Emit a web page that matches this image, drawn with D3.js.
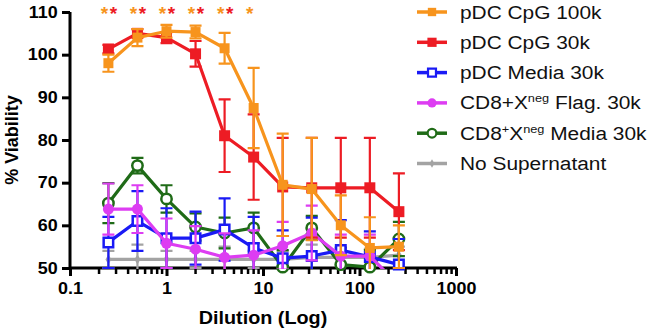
<!DOCTYPE html>
<html>
<head>
<meta charset="utf-8">
<script src="https://cdn.jsdelivr.net/npm/d3@7"></script>
<style>
  body { margin: 0; background: #fff; }
  text { font-family: "Liberation Sans", Arial, sans-serif; }
</style>
</head>
<body>
<svg width="654" height="333"></svg>
<script>
// dilution steps (x, log scale)
var dilutions = [0.25, 0.5, 1, 2, 4, 8, 16, 32, 64, 128, 256];

var seriesNames = ["pDC CpG 100k", "pDC CpG 30k", "pDC Media 30k",
  "CD8+X^{neg} Flag. 30k", "CD8^{+}X^{neg} Media 30k", "No Supernatant"];

// mean % viability and error per dilution
var cpg100Mean = [98, 104, 105.5, 105.3, 101.5, 87.5, 69.5, 68.5, 60, 54.7, 55];
var cpg100Err  = [2, 2, 1.5, 1.5, 3.6, 9.4, 12, 12, 7, 7.2, 5];
var cpg30Mean  = [101.3, 105, 104, 100.2, 81, 76, 69, 68.8, 68.8, 68.8, 63.2];
var cpg30Err   = [1, 1, 1.3, 3, 8.5, 10, 11.5, 11.7, 11.7, 11.7, 9];
var mediaMean  = [56, 61, 57, 57, 59, 54.7, 52.3, 52.8, 54.2, 52.6, 50.8];
var mediaErr   = [6, 7, 7, 6.2, 7.3, 7.3, 6.5, 9, 7, 6, 6];
var flagMean   = [63.8, 63.8, 55.8, 54.4, 52.5, 53, 55.2, 58.2, 52.8, 52.8, 46];
var flagErr    = [6, 5.6, 5.8, 5.4, 5.6, 5.8, 5.6, 6.4, 5, 5, 4];
var cd8Mean    = [65.2, 74, 66.2, 59.6, 58.2, 59.4, 50.2, 59.4, 50.8, 50.2, 56.8];
var cd8Err     = [4.7, 1.8, 3.2, 3.2, 3.6, 3.6, 4, 2.8, 4, 4, 4];
var noSupMean  = [52, 52, 52, 52, 52, 52, 52, 52.5, 52.5, 52.5, 53];
var noSupErr   = [2, 3.5, 2, 2, 3, 2, 2, 3, 2, 2, 2];

// significance stars over the first dilutions: [orange, red]
var starFlags = [[1, 1], [1, 1], [1, 1], [1, 1], [1, 1], [1, 0]];

var xTicks = [0.1, 1, 10, 100, 1000];
var yTicks = [50, 60, 70, 80, 90, 100, 110];

var colors = ["#F7941D", "#ED1C24", "#1A1AF5", "#DD3DF2", "#1F6B17", "#A3A3A3"];

var series = [
  {name: seriesNames[0], mean: cpg100Mean, err: cpg100Err, color: colors[0], shape: d3.symbolSquare, size: 100, open: false},
  {name: seriesNames[1], mean: cpg30Mean,  err: cpg30Err,  color: colors[1], shape: d3.symbolSquare, size: 121, open: false},
  {name: seriesNames[2], mean: mediaMean,  err: mediaErr,  color: colors[2], shape: d3.symbolSquare, size: 90,  open: true},
  {name: seriesNames[3], mean: flagMean,   err: flagErr,   color: colors[3], shape: d3.symbolCircle, size: 95,  open: false},
  {name: seriesNames[4], mean: cd8Mean,    err: cd8Err,    color: colors[4], shape: d3.symbolCircle, size: 85,  open: true},
  {name: seriesNames[5], mean: noSupMean,  err: noSupErr,  color: colors[5], shape: d3.symbolDiamond, size: 30, open: false}
];
// drawing order (bottom -> top)
var drawOrder = [5, 4, 2, 3, 1, 0];

var svg = d3.select("svg");
var xScale = d3.scaleLog().domain([0.1, 1000]).range([70, 456]);
var yScale = d3.scaleLinear().domain([50, 110]).range([268, 12]);

var defs = svg.append("defs");
defs.append("clipPath").attr("id", "clipLines")
  .append("rect").attr("x", 60).attr("y", 0).attr("width", 410).attr("height", 269);
defs.append("clipPath").attr("id", "clipMarks")
  .append("rect").attr("x", 60).attr("y", 0).attr("width", 410).attr("height", 276);

// axes
var yAxis = d3.axisLeft(yScale).tickValues(yTicks).tickSize(8).tickSizeOuter(0).tickPadding(3);
var yG = svg.append("g").attr("transform", "translate(70,0)").call(yAxis);

var xAxis = d3.axisBottom(xScale).tickValues(xTicks).tickSize(8).tickSizeOuter(0).tickPadding(7)
  .tickFormat(d3.format("~g"));
var xG = svg.append("g").attr("transform", "translate(0,268)").call(xAxis);

[yG, xG].forEach(function(g) {
  g.select(".domain").attr("stroke", "#000").attr("stroke-width", 3);
  g.selectAll(".tick line").attr("stroke", "#000").attr("stroke-width", 3);
  g.selectAll(".tick text")
    .attr("fill", "#000")
    .style("font-size", "16px")
    .style("font-weight", "bold")
    .attr("transform", "scale(1.12,1)");
});
xG.select(".domain").attr("d", "M69,0H457");
yG.select(".domain").attr("d", "M0,12V269.5");

// minor log ticks
var minor = [];
[0.1, 1, 10, 100].forEach(function(dec) {
  for (var k = 2; k <= 9; k++) minor.push(dec * k);
});
svg.append("g").selectAll("line.minor")
  .data(minor)
  .enter()
  .append("line")
    .attr("class", "minor")
    .attr("x1", d => xScale(d)).attr("x2", d => xScale(d))
    .attr("y1", 268).attr("y2", 274)
    .attr("stroke", "#000").attr("stroke-width", 2.5);

// axis titles
svg.append("text")
  .attr("transform", "translate(18,140) rotate(-90)")
  .attr("text-anchor", "middle")
  .style("font-size", "18px").style("font-weight", "bold")
  .text("% Viability");

svg.append("text")
  .attr("transform", "translate(263,324) scale(1.1,1)")
  .attr("text-anchor", "middle")
  .style("font-size", "18px").style("font-weight", "bold")
  .text("Dilution (Log)");

// data series
var symbol = d3.symbol();
drawOrder.forEach(function(si) {
  var s = series[si];
  var pts = dilutions.map((x, i) => ({x: x, y: s.mean[i], e: s.err[i]}));
  var g = svg.append("g").attr("class", "series");
  var lg = g.append("g").attr("clip-path", "url(#clipLines)");

  // error bars
  lg.selectAll("path.err")
    .data(pts)
    .enter()
    .append("path")
      .attr("class", "err")
      .attr("d", function(d) {
        var x = xScale(d.x), y0 = yScale(d.y - d.e), y1 = yScale(d.y + d.e);
        return "M" + x + "," + y0 + "V" + y1 +
          "M" + (x - 6) + "," + y1 + "H" + (x + 6) +
          "M" + (x - 6) + "," + y0 + "H" + (x + 6);
      })
      .attr("fill", "none")
      .attr("stroke", s.color)
      .attr("stroke-width", 2.2);

  lg.append("path")
    .datum(pts)
    .attr("d", d3.line().x(d => xScale(d.x)).y(d => yScale(d.y)))
    .attr("fill", "none")
    .attr("stroke", s.color)
    .attr("stroke-width", 3.2)
    .attr("stroke-linejoin", "round");

  g.append("g").attr("clip-path", "url(#clipMarks)")
    .selectAll("path.mark")
    .data(pts)
    .enter()
    .append("path")
      .attr("class", "mark")
      .attr("transform", d => `translate(${xScale(d.x)},${yScale(d.y)})`)
      .attr("d", symbol.type(s.shape).size(s.size)())
      .attr("fill", s.open ? "#fff" : s.color)
      .attr("stroke", s.color)
      .attr("stroke-width", s.open ? 2.5 : 0);
});

// significance stars
var starColors = [colors[0], colors[1]];
starFlags.forEach(function(f, i) {
  var x = xScale(dilutions[i]);
  f.forEach(function(on, j) {
    if (!on) return;
    svg.append("text")
      .attr("x", x + (j === 0 ? -4 : 5))
      .attr("y", 20)
      .attr("text-anchor", "middle")
      .attr("fill", starColors[j])
      .style("font-size", "19px").style("font-weight", "bold")
      .text("*");
  });
});

// legend text, ^{...} marks a superscript
function richText(sel, label) {
  var shift = 0;
  label.split(/(\^\{[^}]*\})/).forEach(function(part) {
    if (!part) return;
    if (part.charAt(0) === "^") {
      sel.append("tspan").attr("dy", -7 - shift).style("font-size", "11px").text(part.slice(2, -1));
      shift = -7;
    } else {
      sel.append("tspan").attr("dy", -shift).text(part);
      shift = 0;
    }
  });
}

var legend = svg.append("g");
series.forEach(function(s, i) {
  var y = 12 + i * 30.3;
  var row = legend.append("g").attr("transform", `translate(0,${y})`);
  row.append("line")
    .attr("x1", 417).attr("x2", 447)
    .attr("stroke", s.color).attr("stroke-width", 3.5);
  row.append("path")
    .attr("transform", "translate(432,0)")
    .attr("d", symbol.type(s.shape).size(s.size * 0.7)())
    .attr("fill", s.open ? "#fff" : s.color)
    .attr("stroke", s.color)
    .attr("stroke-width", s.open ? 2.2 : 0);
  var t = row.append("text")
    .attr("transform", "translate(460,6.5) scale(1.16,1)")
    .attr("fill", "#111")
    .style("font-size", "18px");
  richText(t, s.name);
});
</script>
</body>
</html>
